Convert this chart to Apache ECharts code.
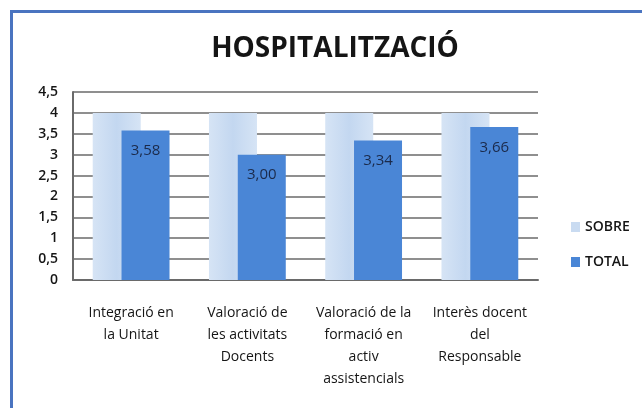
<!DOCTYPE html>
<html>
<head>
<meta charset="utf-8">
<script src="https://cdn.jsdelivr.net/npm/echarts@6/dist/echarts.min.js"></script>
<style>
  html, body { margin: 0; padding: 0; background: #fff; }
  #main { width: 642px; height: 408px; }
</style>
</head>
<body>
<div id="main"></div>
<script>
// chart data
const categories = [
  "Integració en\nla Unitat",
  "Valoració de\nles activitats\nDocents",
  "Valoració de la\nformació en\nactiv\nassistencials",
  "Interès docent\ndel\nResponsable"
];
const sobreValues = [4, 4, 4, 4];
const totalValues = [3.58, 3.00, 3.34, 3.66];
const yTicks = [0, 0.5, 1, 1.5, 2, 2.5, 3, 3.5, 4, 4.5];

const fontFam = "'Open Sans', 'Liberation Sans', sans-serif";

var chart = echarts.init(document.getElementById("main"));

var option = {
  animation: false,
  backgroundColor: "#ffffff",
  title: {
    text: "HOSPITALITZACIÓ",
    left: 330,
    top: 30,
    textAlign: "center",
    textStyle: {
      fontFamily: fontFam,
      fontSize: 28,
      fontWeight: "bold",
      color: "#151515"
    }
  },
  graphic: [
    {
      // frame of the chart (top + left edges visible)
      type: "rect",
      shape: { x: 11.5, y: 11.5, width: 700, height: 500 },
      style: { fill: "none", stroke: "#4a74c0", lineWidth: 3 },
      silent: true
    }
  ],
  legend: {
    orient: "vertical",
    left: 566,
    top: 215,
    itemWidth: 9,
    itemHeight: 10,
    itemGap: 21,
    textStyle: {
      fontFamily: fontFam,
      fontSize: 14,
      fontWeight: 600,
      color: "#151515"
    },
    data: [
      { name: "SOBRE", icon: "rect", itemStyle: { color: "#c9dbf1" } },
      { name: "TOTAL", icon: "rect", itemStyle: { color: "#4a86d6" } }
    ]
  },
  grid: {
    left: 73,
    right: 104,
    top: 92,
    bottom: 128
  },
  xAxis: {
    type: "category",
    data: categories,
    axisTick: { show: false },
    axisLine: { lineStyle: { color: "#6a6a6a", width: 2 } },
    axisLabel: {
      interval: 0,
      margin: 22,
      fontFamily: fontFam,
      fontSize: 14,
      fontWeight: 500,
      lineHeight: 22,
      color: "#151515"
    }
  },
  yAxis: {
    type: "value",
    min: 0,
    max: 4.5,
    interval: 0.5,
    axisLine: { show: true, lineStyle: { color: "#6a6a6a", width: 2 } },
    axisTick: { show: false },
    splitLine: { lineStyle: { color: "#6a6a6a", width: 1.5 } },
    axisLabel: {
      margin: 15,
      fontFamily: fontFam,
      fontSize: 14,
      fontWeight: 600,
      color: "#151515",
      formatter: function (v) {
        return yTicks.indexOf(v) >= 0 ? String(v).replace(".", ",") : "";
      }
    }
  },
  series: [
    {
      name: "SOBRE",
      type: "bar",
      data: sobreValues,
      barWidth: 48,
      barGap: "-40%",
      itemStyle: {
        color: new echarts.graphic.LinearGradient(0, 0, 1, 0, [
          { offset: 0, color: "#d6e4f5" },
          { offset: 0.5, color: "#c3d7f0" },
          { offset: 1, color: "#d6e4f5" }
        ])
      }
    },
    {
      name: "TOTAL",
      type: "bar",
      data: totalValues,
      barWidth: 48,
      itemStyle: { color: "#4a86d6" },
      label: {
        show: true,
        position: "insideTop",
        distance: 13,
        fontFamily: fontFam,
        fontSize: 15,
        color: "#1b2a4a",
        formatter: function (p) {
          return p.value.toFixed(2).replace(".", ",");
        }
      }
    }
  ]
};

chart.setOption(option);
</script>
</body>
</html>
